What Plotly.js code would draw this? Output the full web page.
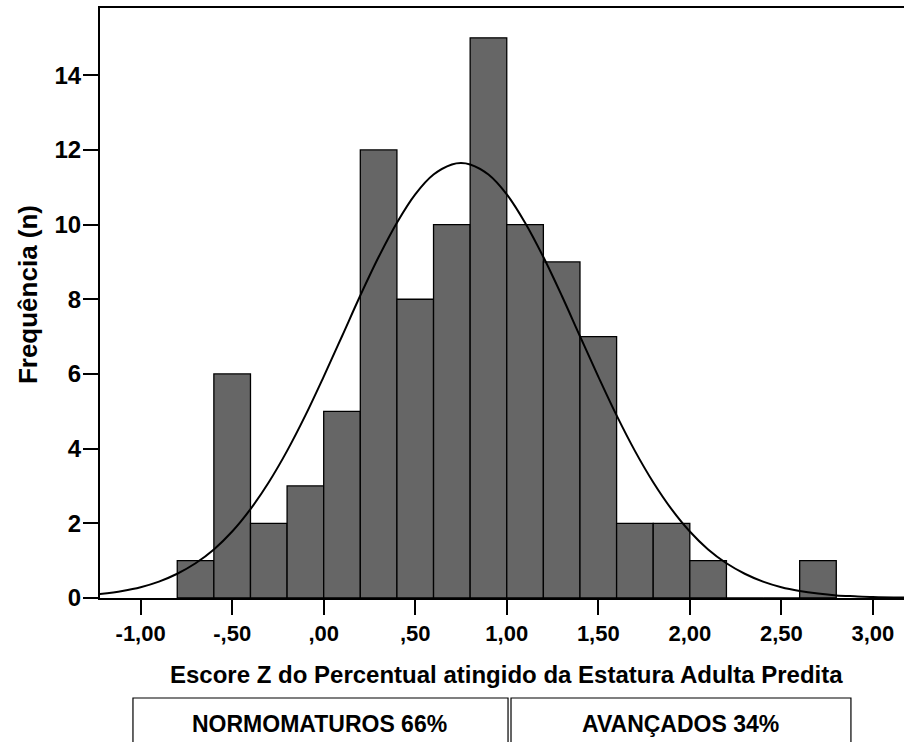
<!DOCTYPE html>
<html>
<head>
<meta charset="utf-8">
<script src="https://cdn.plot.ly/plotly-3.0.1.min.js"></script>
<style>html,body{margin:0;padding:0;background:#fff;}#chart{width:904px;height:742px;}</style>
</head>
<body>
<div id="chart"></div>
<script>
// Histogram bins (centers of 0.2-wide bins) and frequencies
var binCenters = [-0.7, -0.5, -0.3, -0.1, 0.1, 0.3, 0.5, 0.7, 0.9, 1.1, 1.3, 1.5, 1.7, 1.9, 2.1, 2.3, 2.5, 2.7];
var counts     = [1, 6, 2, 3, 5, 12, 8, 10, 15, 10, 9, 7, 2, 2, 1, 0, 0, 1];

// Normal curve, points
var curveX = [-1.23, -1.1, -1.0, -0.9, -0.8, -0.7, -0.6, -0.5, -0.4, -0.3, -0.2, -0.1, 0.0, 0.1, 0.2, 0.3, 0.4, 0.5, 0.6, 0.7, 0.75, 0.8, 0.9, 1.0, 1.1, 1.2, 1.3, 1.4, 1.5, 1.6, 1.7, 1.8, 1.9, 2.0, 2.1, 2.2, 2.3, 2.4, 2.5, 2.6, 2.7, 2.8, 2.9, 3.0, 3.18];
var curveY = [0.10, 0.19, 0.29, 0.44, 0.65, 0.93, 1.30, 1.78, 2.38, 3.10, 3.94, 4.89, 5.93, 7.01, 8.10, 9.13, 10.05, 10.81, 11.34, 11.61, 11.65, 11.61, 11.34, 10.81, 10.05, 9.13, 8.10, 7.01, 5.93, 4.89, 3.94, 3.10, 2.38, 1.78, 1.30, 0.93, 0.65, 0.44, 0.29, 0.19, 0.12, 0.07, 0.045, 0.025, 0.01];

var xTickVals = [-1, -0.5, 0, 0.5, 1, 1.5, 2, 2.5, 3];
var xTickText = ["-1,00", "-,50", ",00", ",50", "1,00", "1,50", "2,00", "2,50", "3,00"];
var yTickVals = [0, 2, 4, 6, 8, 10, 12, 14];

var xTitle = "Escore Z do Percentual atingido da Estatura Adulta Predita";
var yTitle = "Frequência (n)";
var groupLabels = ["NORMOMATUROS 66%", "AVANÇADOS 34%"];

var FONT = "Liberation Sans, Arial, Helvetica, sans-serif";

var traces = [
  {
    type: "bar",
    x: binCenters,
    y: counts,
    width: 0.2,
    marker: {color: "#666666", line: {color: "#000000", width: 1.3}},
    hoverinfo: "x+y"
  },
  {
    type: "scatter",
    mode: "lines",
    x: curveX,
    y: curveY,
    line: {color: "#000000", width: 2, shape: "spline", smoothing: 1},
    hoverinfo: "skip"
  }
];

var layout = {
  width: 904,
  height: 742,
  margin: {l: 100, r: 0, t: 8, b: 144},
  paper_bgcolor: "#ffffff",
  plot_bgcolor: "#ffffff",
  showlegend: false,
  bargap: 0,
  xaxis: {
    range: [-1.222, 3.17],
    tickmode: "array",
    tickvals: xTickVals,
    ticktext: xTickText,
    ticks: "outside",
    ticklen: 15,
    tickwidth: 2,
    tickcolor: "#000",
    showline: true,
    linecolor: "#000",
    linewidth: 2,
    mirror: true,
    showgrid: false,
    zeroline: false,
    tickfont: {family: FONT, size: 22, color: "#000", weight: "bold"}
  },
  yaxis: {
    range: [0, 15.8],
    tickmode: "array",
    tickvals: yTickVals,
    ticks: "outside",
    ticklen: 15,
    tickwidth: 2,
    tickcolor: "#000",
    showline: true,
    linecolor: "#000",
    linewidth: 2,
    showgrid: false,
    zeroline: false,
    ticklabelstandoff: -3,
    tickfont: {family: FONT, size: 24, color: "#000", weight: "bold"}
  },
  shapes: [
    {type: "rect", xref: "paper", yref: "paper", x0: 0.041, x1: 0.5075, y0: -0.1695, y1: -0.30,
     line: {color: "#000", width: 1.2}, fillcolor: "rgba(0,0,0,0)"},
    {type: "rect", xref: "paper", yref: "paper", x0: 0.5112, x1: 0.934, y0: -0.1695, y1: -0.30,
     line: {color: "#000", width: 1.2}, fillcolor: "rgba(0,0,0,0)"}
  ],
  annotations: [
    {text: xTitle, xref: "paper", yref: "paper", x: 0.506, y: -0.1305, showarrow: false,
     xanchor: "center", yanchor: "middle", font: {family: FONT, size: 24, color: "#000", weight: "bold"}},
    {text: yTitle, xref: "paper", yref: "paper", x: -0.0896, y: 0.515, showarrow: false, textangle: -90,
     xanchor: "center", yanchor: "middle", font: {family: FONT, size: 26, color: "#000", weight: "bold"}},
    {text: groupLabels[0], xref: "paper", yref: "paper", x: 0.2724, y: -0.2136, showarrow: false,
     xanchor: "center", yanchor: "middle", font: {family: FONT, size: 23, color: "#000", weight: "bold"}},
    {text: groupLabels[1], xref: "paper", yref: "paper", x: 0.7226, y: -0.2136, showarrow: false,
     xanchor: "center", yanchor: "middle", font: {family: FONT, size: 23, color: "#000", weight: "bold"}}
  ]
};

Plotly.newPlot("chart", traces, layout, {displayModeBar: false, staticPlot: true});
</script>
</body>
</html>
